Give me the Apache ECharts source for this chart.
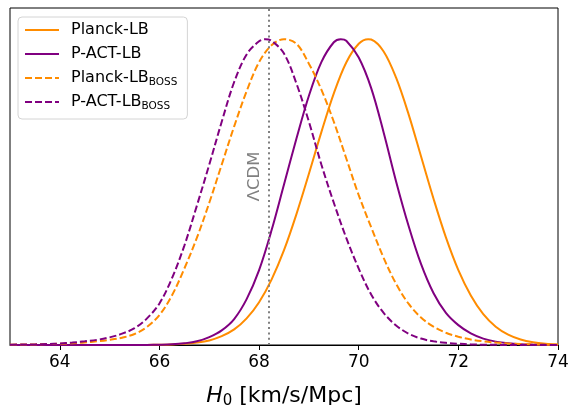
<!DOCTYPE html>
<html>
<head>
<meta charset="utf-8">
<script src="https://cdn.jsdelivr.net/npm/echarts@6/dist/echarts.min.js"></script>
<style>
html,body{margin:0;padding:0;background:#fff;}
#chart{width:568px;height:405px;}
</style>
</head>
<body>
<div id="chart"></div>
<script>
// H0 grid (km/s/Mpc)
const h0 = [63, 63.25, 63.5, 63.75, 64, 64.25, 64.5, 64.75, 65, 65.25, 65.5, 65.75, 66, 66.25, 66.5, 66.75,
  67, 67.25, 67.5, 67.75, 68, 68.25, 68.5, 68.75, 69, 69.25, 69.5, 69.75, 70, 70.25, 70.5, 70.75,
  71, 71.25, 71.5, 71.75, 72, 72.25, 72.5, 72.75, 73, 73.25, 73.5, 73.75, 74];

// Normalised posteriors
const planckLB = [0, 0, 0, 0, 0, 0, 0, 0, 0, 0, 0.0001, 0.0003, 0.0007, 0.0017, 0.0038, 0.0078,
  0.015, 0.029, 0.051, 0.087, 0.14, 0.214, 0.31, 0.428, 0.56, 0.696, 0.823, 0.924, 0.985, 0.999, 0.96, 0.874,
  0.755, 0.617, 0.479, 0.352, 0.245, 0.162, 0.101, 0.06, 0.034, 0.018, 0.009, 0.0043, 0.002];

const pactLB = [0, 0, 0, 0, 0, 0, 0, 0, 0, 0.0001, 0.0001, 0.0003, 0.001, 0.0024, 0.0056, 0.012,
  0.026, 0.048, 0.085, 0.15, 0.245, 0.375, 0.525, 0.675, 0.815, 0.925, 0.99, 0.995, 0.94, 0.84, 0.695, 0.535,
  0.39, 0.265, 0.17, 0.105, 0.065, 0.038, 0.021, 0.011, 0.0055, 0.0026, 0.0012, 0.0005, 0.0002];

const planckBOSS = [0.001, 0.0015, 0.002, 0.003, 0.004, 0.006, 0.008, 0.012, 0.017, 0.024, 0.036, 0.059, 0.098, 0.162, 0.25, 0.35,
  0.465, 0.59, 0.715, 0.83, 0.925, 0.98, 1.0, 0.985, 0.92, 0.835, 0.73, 0.61, 0.49, 0.385, 0.285, 0.2,
  0.135, 0.09, 0.06, 0.04, 0.027, 0.018, 0.012, 0.008, 0.005, 0.003, 0.002, 0.001, 0.001];

const pactBOSS = [0.001, 0.0015, 0.002, 0.003, 0.005, 0.008, 0.012, 0.017, 0.025, 0.037, 0.055, 0.087, 0.136, 0.218, 0.325, 0.455,
  0.59, 0.73, 0.86, 0.95, 0.993, 0.995, 0.953, 0.855, 0.73, 0.59, 0.465, 0.35, 0.25, 0.165, 0.105, 0.064,
  0.037, 0.021, 0.012, 0.007, 0.004, 0.002, 0.001, 0.0005, 0.0003, 0.0002, 0.0001, 0, 0];

// Peak positions (H0 at maximum)
const peakH0 = [70.19, 69.64, 68.5, 68.13];
const peakValue = [1.0, 1.0, 1.0, 1.0];

const seriesNames = ['Planck-LB', 'P-ACT-LB', 'Planck-LB_BOSS', 'P-ACT-LB_BOSS'];
const tickValues = [64, 66, 68, 70, 72, 74];
const lcdmH0 = 68.2;
const Y_MAX = 1.102;

const FONT = 'DejaVu Sans';
const ORANGE = '#ff8c00';
const PURPLE = '#800080';

function pairs(arr, k) {
  const pts = h0.map((x, i) => [x, arr[i]]).filter(p => p[0] !== peakH0[k]);
  pts.push([peakH0[k], peakValue[k]]);
  pts.sort((a, b) => a[0] - b[0]);
  return pts;
}

function lineSeries(k, data, color, dashed, extra) {
  return Object.assign({
    name: seriesNames[k],
    type: 'line',
    data: pairs(data, k),
    symbol: 'none',
    showSymbol: false,
    smooth: 0.35,
    clip: true,
    itemStyle: { color: color },
    lineStyle: { color: color, width: 2, type: dashed ? [7, 3] : 'solid' }
  }, extra || {});
}

const chart = echarts.init(document.getElementById('chart'), null, { renderer: 'canvas' });
chart.setOption({
  animation: false,
  backgroundColor: '#fff',
  grid: { left: 10, right: 10, top: 8, bottom: 60, show: true, borderColor: '#000', borderWidth: 1,
    backgroundColor: 'transparent', containLabel: false, outerBoundsMode: 'none' },
  legend: {
    orient: 'vertical',
    left: 18, top: 17,
    itemWidth: 34, itemHeight: 20, itemGap: 4,
    padding: [3, 10, 7, 6],
    backgroundColor: '#fff',
    borderColor: '#d4d4d4', borderWidth: 1, borderRadius: 4,
    itemStyle: { color: 'rgba(0,0,0,0)', borderWidth: 0, opacity: 0 },
    data: seriesNames,
    formatter: function (n) {
      if (n.indexOf('_') >= 0) {
        const p = n.split('_');
        return '{a|' + p[0] + '}{s|' + p[1] + '}';
      }
      return '{a|' + n + '}';
    },
    textStyle: {
      fontFamily: FONT, color: '#000', padding: [0, 0, 0, 7], height: 20, lineHeight: 20,
      rich: {
        a: { fontFamily: FONT, fontSize: 16, color: '#000', lineHeight: 20 },
        s: { fontFamily: FONT, fontSize: 10.5, color: '#000', lineHeight: 13, verticalAlign: 'bottom', padding: [7, 0, 0, 0] }
      }
    }
  },
  xAxis: {
    type: 'value', min: 63, max: 74, interval: 1,
    splitLine: { show: false },
    axisLine: { show: true, onZero: false, lineStyle: { color: '#000', width: 1 } },
    axisTick: { show: true, customValues: tickValues, length: 5, lineStyle: { color: '#000', width: 1 } },
    axisLabel: { customValues: tickValues, fontFamily: FONT, fontSize: 17, color: '#000', margin: 9 },
    name: '{i|H}{sub|0}{t| [km/s/Mpc]}',
    nameLocation: 'middle',
    nameGap: 38,
    nameTextStyle: {
      fontFamily: FONT, color: '#000',
      rich: {
        i: { fontFamily: FONT, fontStyle: 'italic', fontSize: 22, color: '#000', lineHeight: 26 },
        sub: { fontFamily: FONT, fontSize: 15, color: '#000', verticalAlign: 'bottom', lineHeight: 26, padding: [8, 0, 0, 0] },
        t: { fontFamily: FONT, fontSize: 22, color: '#000', lineHeight: 26 }
      }
    }
  },
  yAxis: { type: 'value', min: 0, max: Y_MAX, show: false },
  series: [
    lineSeries(0, planckLB, ORANGE, false, {
      markLine: {
        silent: true,
        symbol: ['none', 'none'],
        animation: false,
        lineStyle: { color: '#808080', width: 2, type: [2, 3.3] },
        label: { show: true, formatter: 'ΛCDM', position: 'insideMiddleTop', distance: 6, color: '#808080', fontFamily: FONT, fontSize: 16.5 },
        emphasis: { disabled: true },
        data: [{ xAxis: lcdmH0 }]
      }
    }),
    lineSeries(1, pactLB, PURPLE, false),
    lineSeries(2, planckBOSS, ORANGE, true),
    lineSeries(3, pactBOSS, PURPLE, true)
  ]
});
</script>
</body>
</html>
